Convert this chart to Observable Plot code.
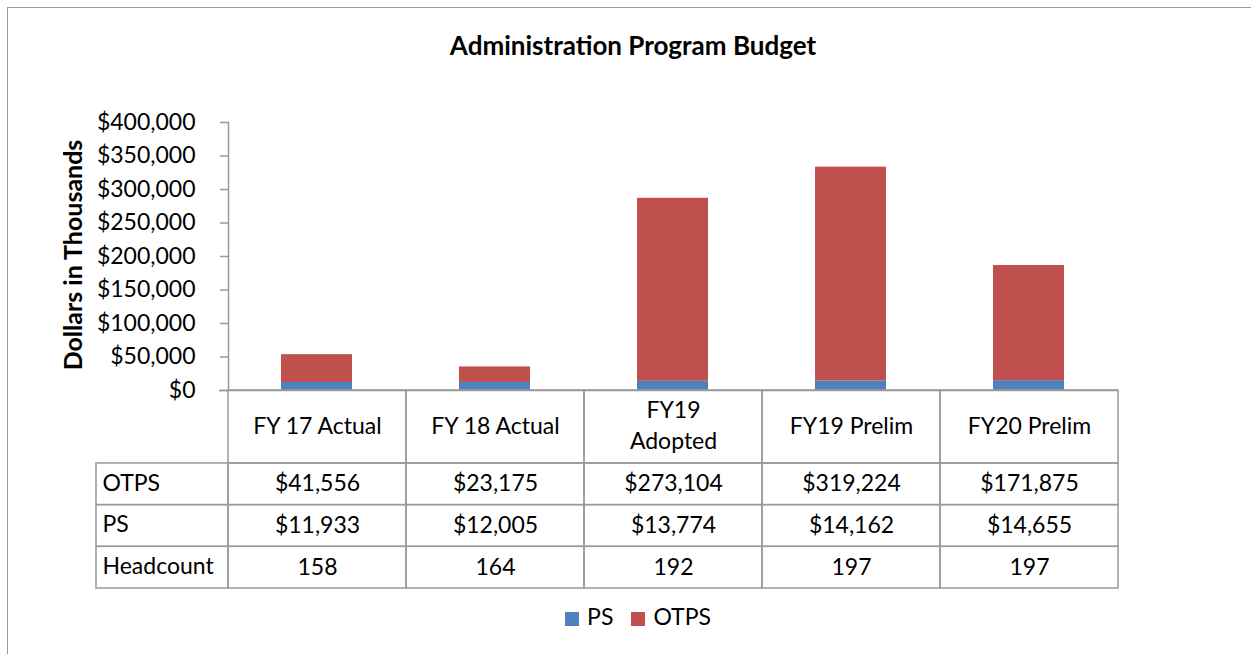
<!DOCTYPE html>
<html><head><meta charset="utf-8">
<script src="https://cdn.jsdelivr.net/npm/d3@7"></script>
<script src="https://cdn.jsdelivr.net/npm/@observablehq/plot@0.6"></script>
<style>
html,body{margin:0;padding:0;background:#fff;}
#wrap{position:relative;width:1251px;height:654px;overflow:hidden;font-family:Lato,"Open Sans",sans-serif;color:#000;}
#frame{position:absolute;left:7px;top:7px;width:1300px;height:700px;border-top:1.5px solid #9a9a9a;border-left:1.5px solid #9a9a9a;}
#title{position:absolute;top:29px;left:0;width:1266px;text-align:center;font-weight:bold;font-size:26px;}
#ytitle{position:absolute;left:72px;top:255px;transform:translate(-50%,-50%) rotate(-90deg);font-weight:bold;font-size:25px;white-space:nowrap;}
#p1,#p2{position:absolute;left:0;}
#p1{top:0;} #p2{top:389px;}
#legend{position:absolute;top:602px;left:0;width:1276px;display:flex;justify-content:center;gap:18px;font-size:23px;}
#legend span.sw{display:inline-block;width:14px;height:14px;margin-right:8px;vertical-align:-1px;}
</style></head>
<body><div id="wrap"><div id="frame"></div><div id="title">Administration Program Budget</div><div id="ytitle">Dollars in Thousands</div><div id="p1"></div><div id="p2"></div><div id="legend"></div></div>
<script>
const categories = ["FY 17 Actual","FY 18 Actual","FY19\nAdopted","FY19 Prelim","FY20 Prelim"];
const psValues = [11933, 12005, 13774, 14162, 14655];
const otpsValues = [41556, 23175, 273104, 319224, 171875];
const headcount = [158, 164, 192, 197, 197];
const yTicks = [0,50000,100000,150000,200000,250000,300000,350000,400000];
const seriesNames = ["PS","OTPS"];
const seriesColors = ["#4f81bd","#c0504d"];
const rowLabels = ["OTPS","PS","Headcount"];

const bars = [];
categories.forEach((c,i)=>{
  bars.push({cat:c, series:"PS", value:psValues[i]});
  bars.push({cat:c, series:"OTPS", value:otpsValues[i]});
});
const money = d3.format("$,");
const grey = "#999";

const p1 = Plot.plot({
  width:1251, height:420,
  marginTop:122, marginBottom:30, marginLeft:228, marginRight:133,
  style:{fontFamily:"Lato, 'Open Sans', sans-serif", fontSize:"23px", color:"#000", background:"transparent"},
  x:{domain:categories, paddingInner:0.6, paddingOuter:0.3, axis:null},
  y:{domain:[0,400000], ticks:yTicks, tickFormat:money},
  color:{domain:seriesNames, range:seriesColors},
  marks:[
    Plot.barY(bars, Plot.stackY({x:"cat", y:"value", fill:"series", order:seriesNames})),
    Plot.axisY({ticks:yTicks, tickFormat:money, tickSize:8, tickPadding:25, stroke:grey, strokeWidth:1.5, fill:"#000", label:null, fontSize:23}),
    Plot.frame({anchor:"left", stroke:grey, strokeWidth:1.5}),
    Plot.ruleY([0], {stroke:grey, strokeWidth:1.5, insetLeft:-9})
  ]
});
document.getElementById("p1").append(p1);

// table geometry in column/row units
const labelW = 132/178;
const headerH = 1.75;
const cells = [];
categories.forEach((c,i)=>{
  cells.push({x1:i, x2:i+1, y1:0, y2:headerH, text:c, anchor:"middle"});
  const vals = [money(otpsValues[i]), money(psValues[i]), String(headcount[i])];
  vals.forEach((v,r)=> cells.push({x1:i, x2:i+1, y1:headerH+r, y2:headerH+r+1, text:v, anchor:"middle"}));
});
rowLabels.forEach((l,r)=> cells.push({x1:-labelW, x2:0, y1:headerH+r, y2:headerH+r+1, text:l, anchor:"start"}));

const p2 = Plot.plot({
  width:1251, height:201,
  marginTop:1, marginBottom:2, marginLeft:96, marginRight:133,
  style:{fontFamily:"Lato, 'Open Sans', sans-serif", fontSize:"23px", color:"#000", background:"transparent"},
  x:{domain:[-labelW,5], axis:null},
  y:{domain:[0,headerH+3], reverse:true, axis:null},
  marks:[
    Plot.rect(cells, {x1:"x1", x2:"x2", y1:"y1", y2:"y2", stroke:grey, strokeWidth:1.5, fill:"none"}),
    Plot.text(cells.filter(d=>d.anchor==="middle"), {x:d=>(d.x1+d.x2)/2, y:d=>(d.y1+d.y2)/2, text:"text", fontSize:23, fill:"#000", lineHeight:1.35, dy:-3}),
    Plot.text(cells.filter(d=>d.anchor==="start"), {x:"x1", y:d=>(d.y1+d.y2)/2, text:"text", textAnchor:"start", dx:6, dy:-1, fontSize:23, fill:"#000"})
  ]
});
document.getElementById("p2").append(p2);

const lg = document.getElementById("legend");
seriesNames.forEach((s,i)=>{
  const e = document.createElement("div");
  e.innerHTML = `<span class="sw" style="background:${seriesColors[i]}"></span>${s}`;
  lg.append(e);
});
</script></body></html>
